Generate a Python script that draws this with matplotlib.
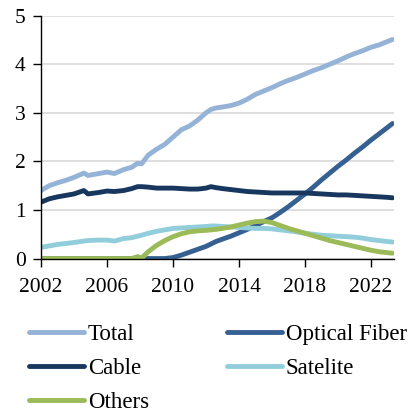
import matplotlib
matplotlib.use("Agg")
import matplotlib.pyplot as plt

years = [2002, 2002.5, 2003, 2003.5, 2004, 2004.6, 2004.85, 2005.5, 2006, 2006.45,
         2007, 2007.5, 2007.85, 2008.1, 2008.5, 2009, 2009.5, 2010, 2010.5, 2011,
         2011.5, 2012, 2012.3, 2012.6, 2013, 2013.5, 2014, 2014.5, 2015, 2015.5,
         2016, 2016.5, 2017, 2017.5, 2018, 2018.5, 2019, 2019.5, 2020, 2020.5,
         2021, 2021.5, 2022, 2022.5, 2023, 2023.3]

total = [1.40, 1.50, 1.56, 1.61, 1.67, 1.76, 1.71, 1.75, 1.78, 1.75,
         1.83, 1.88, 1.96, 1.95, 2.13, 2.25, 2.35, 2.50, 2.65, 2.73,
         2.85, 3.00, 3.07, 3.10, 3.12, 3.15, 3.20, 3.28, 3.38, 3.45,
         3.52, 3.60, 3.67, 3.73, 3.80, 3.87, 3.93, 4.00, 4.07, 4.15,
         4.22, 4.28, 4.35, 4.40, 4.47, 4.51]

optical_fiber = [0, 0, 0, 0, 0, 0, 0, 0, 0, 0,
                 0, 0, 0, 0, 0, 0, 0, 0.02, 0.07, 0.13,
                 0.19, 0.25, 0.30, 0.35, 0.40, 0.46, 0.53, 0.60, 0.68, 0.76,
                 0.84, 0.95, 1.07, 1.20, 1.33, 1.47, 1.62, 1.76, 1.90, 2.03,
                 2.17, 2.30, 2.44, 2.57, 2.70, 2.78]

cable = [1.16, 1.23, 1.27, 1.30, 1.33, 1.40, 1.33, 1.36, 1.39, 1.38,
         1.40, 1.44, 1.48, 1.48, 1.47, 1.45, 1.45, 1.45, 1.44, 1.43,
         1.43, 1.45, 1.48, 1.46, 1.44, 1.42, 1.40, 1.38, 1.37, 1.36,
         1.35, 1.35, 1.35, 1.35, 1.35, 1.34, 1.33, 1.32, 1.31, 1.31,
         1.30, 1.29, 1.28, 1.27, 1.26, 1.25]

satelite = [0.23, 0.26, 0.29, 0.31, 0.33, 0.36, 0.37, 0.38, 0.38, 0.36,
            0.41, 0.43, 0.46, 0.48, 0.52, 0.56, 0.59, 0.62, 0.63, 0.64,
            0.65, 0.66, 0.67, 0.67, 0.66, 0.65, 0.64, 0.63, 0.62, 0.62,
            0.61, 0.59, 0.57, 0.55, 0.52, 0.50, 0.48, 0.47, 0.46, 0.45,
            0.44, 0.42, 0.39, 0.37, 0.35, 0.34]

others = [0, 0, 0, 0, 0, 0, 0, 0, 0, 0,
          0, 0, 0.04, 0.01, 0.14, 0.27, 0.37, 0.45, 0.51, 0.55,
          0.57, 0.58, 0.59, 0.60, 0.62, 0.65, 0.69, 0.73, 0.76, 0.77,
          0.74, 0.68, 0.62, 0.57, 0.52, 0.47, 0.42, 0.37, 0.33, 0.29,
          0.25, 0.21, 0.17, 0.14, 0.12, 0.11]

x_ticks = [2002, 2006, 2010, 2014, 2018, 2022]
y_ticks = [0, 1, 2, 3, 4, 5]

plt.rcParams['font.family'] = ['Liberation Serif', 'DejaVu Serif']
TICK_FS = 15.5
LEG_FS = 16.5

fig = plt.figure(figsize=(4.14, 4.13), dpi=100)
ax = fig.add_axes([0.099, 0.374, 0.853, 0.588])

lw = 3.5
kw = dict(lw=lw, solid_capstyle='round', solid_joinstyle='round')
l_total, = ax.plot(years, total, color='#95B3D7', label='Total', **kw)
l_fiber, = ax.plot(years, optical_fiber, color='#366092', label='Optical Fiber', **kw)
l_cable, = ax.plot(years, cable, color='#17375E', label='Cable', **kw)
l_sat, = ax.plot(years, satelite, color='#92CDDC', label='Satelite', **kw)
l_oth, = ax.plot(years, others, color='#9BBB59', label='Others', **kw)

ax.set_xlim(2002, 2023.4)
ax.set_ylim(0, 5)
ax.set_xticks(x_ticks)
ax.set_yticks(y_ticks)
ax.tick_params(axis='both', labelsize=TICK_FS, direction='out', length=6, width=1, color='black')
ax.tick_params(axis='x', pad=8)
ax.tick_params(axis='y', pad=5)
ax.grid(axis='y', color='#D9D9D9', lw=1.2)
ax.set_axisbelow(True)
for s in ['top', 'right']:
    ax.spines[s].set_visible(False)
for s in ['left', 'bottom']:
    ax.spines[s].set_color('black')
    ax.spines[s].set_linewidth(1)

handles = [l_total, l_cable, l_oth, l_fiber, l_sat]
labels = [h.get_label() for h in handles]
fig.legend(handles, labels, ncol=2, loc='upper left', bbox_to_anchor=(0.07, 0.215),
           frameon=False, fontsize=LEG_FS, handlelength=2.4, handletextpad=0.17,
           columnspacing=3.4, labelspacing=0.55, borderpad=0, borderaxespad=0)

fig.savefig('out.png', dpi=100)
